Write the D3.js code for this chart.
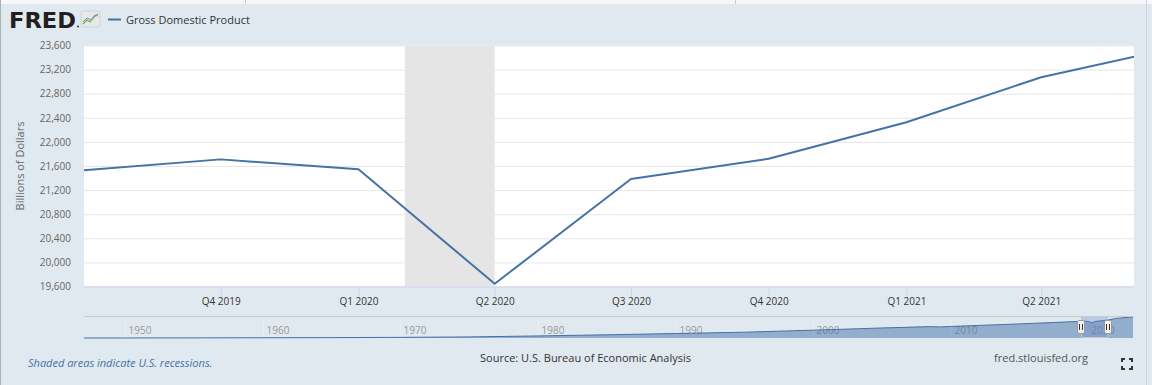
<!DOCTYPE html>
<html>
<head>
<meta charset="utf-8">
<script src="https://cdn.jsdelivr.net/npm/d3@7"></script>
<style>
  body { margin: 0; background: #e1e9f0; }
  svg { display: block; font-family: "Open Sans", sans-serif; }
</style>
</head>
<body>
<svg id="chart" width="1152" height="385"></svg>
<script>
// GDP, billions of dollars, quarterly
var quarters = ["2019-07-01", "2019-10-01", "2020-01-01", "2020-04-01", "2020-07-01",
                "2020-10-01", "2021-01-01", "2021-04-01", "2021-07-01"];
var gdp = [21530, 21710, 21545, 19645, 21384, 21720, 22327, 23074, 23570];

var yTicks = [19600, 20000, 20400, 20800, 21200, 21600, 22000, 22400, 22800, 23200, 23600];
var xTicks = ["2019-10-01", "2020-01-01", "2020-04-01", "2020-07-01", "2020-10-01", "2021-01-01", "2021-04-01"];
var xTickLabels = ["Q4 2019", "Q1 2020", "Q2 2020", "Q3 2020", "Q4 2020", "Q1 2021", "Q2 2021"];

var recession = ["2020-02-01", "2020-04-01"];

// navigator series (whole history, rough reading)
var navDates = ["1947-01-01", "1950-01-01", "1955-01-01", "1960-01-01", "1965-01-01", "1970-01-01",
                "1975-01-01", "1980-01-01", "1985-01-01", "1990-01-01", "1995-01-01", "2000-01-01",
                "2005-01-01", "2008-07-01", "2009-04-01", "2010-01-01", "2015-01-01", "2019-07-01",
                "2020-01-01", "2020-04-01", "2020-07-01", "2021-01-01", "2021-07-01", "2022-01-01",
                "2023-01-01", "2023-04-01"];
var navGdp = [243, 281, 393, 543, 720, 1073, 1636, 2857, 4339, 5964, 7640, 10252,
              13039, 14770, 14380, 14990, 18240, 21530, 21545, 19645, 21384, 22327, 23570, 25250,
              26810, 27060];
var navYears = [1950, 1960, 1970, 1980, 1990, 2000, 2010, 2020];

var parse = d3.timeParse("%Y-%m-%d");
var svg = d3.select("#chart");
var blue = "#4572a7";

// page bits round the chart
svg.append("rect").attr("x", 0).attr("y", 0).attr("width", 1152).attr("height", 4).attr("fill", "#f5f7f9");
svg.append("line").attr("x1", 245.5).attr("x2", 245.5).attr("y1", 0).attr("y2", 4).attr("stroke", "#ccc");
svg.append("line").attr("x1", 735.5).attr("x2", 735.5).attr("y1", 0).attr("y2", 4).attr("stroke", "#ccc");
svg.append("line").attr("x1", 0.5).attr("x2", 0.5).attr("y1", 0).attr("y2", 385).attr("stroke", "#a9b0b6");
svg.append("line").attr("x1", 1146.5).attr("x2", 1146.5).attr("y1", 0).attr("y2", 385).attr("stroke", "#cdd3d8");

// logo
svg.append("text").attr("x", 9).attr("y", 27.5)
  .attr("font-family", "DejaVu Sans, sans-serif").attr("font-weight", "bold")
  .attr("font-size", 22).attr("textLength", 67).attr("lengthAdjust", "spacingAndGlyphs")
  .attr("fill", "#231f20").text("FRED");
svg.append("circle").attr("cx", 78).attr("cy", 26.5).attr("r", 0.9).attr("fill", "#231f20");
var icon = svg.append("g").attr("transform", "translate(81,11)");
icon.append("rect").attr("width", 19).attr("height", 16).attr("rx", 2).attr("fill", "#e6e8ea").attr("stroke", "#cfd3d6");
icon.append("path").attr("d", "M2,13 L6,9 L9,11 L13,6 L17,3").attr("fill", "none").attr("stroke", "#7fb241").attr("stroke-width", 1.2);
icon.append("path").attr("d", "M2,11 L6,7 L10,9 L14,4 L17,5").attr("fill", "none").attr("stroke", "#6f93bd").attr("stroke-width", 1);

// legend
svg.append("line").attr("x1", 108).attr("x2", 121).attr("y1", 19.5).attr("y2", 19.5).attr("stroke", blue).attr("stroke-width", 2);
svg.append("text").attr("x", 126).attr("y", 24).attr("font-size", 11).attr("fill", "#333").text("Gross Domestic Product");

// main plot
var pLeft = 84, pRight = 1134, pTop = 45.5, pBottom = 286.5;
var x = d3.scaleTime().domain([parse("2019-07-01"), parse("2021-06-02")]).range([83, pRight]);
var y = d3.scaleLinear().domain([19600, 23600]).range([pBottom, pTop]);

svg.append("rect").attr("x", pLeft).attr("y", pTop).attr("width", pRight - pLeft).attr("height", pBottom - pTop).attr("fill", "#fff");

svg.append("defs").append("clipPath").attr("id", "clip")
  .append("rect").attr("x", pLeft).attr("y", pTop - 2).attr("width", pRight - pLeft).attr("height", pBottom - pTop + 4);

svg.append("rect")
  .attr("x", x(parse(recession[0]))).attr("y", pTop)
  .attr("width", x(parse(recession[1])) - x(parse(recession[0])))
  .attr("height", pBottom - pTop).attr("fill", "#e5e5e5");

var yAxis = d3.axisLeft(y).tickValues(yTicks).tickSize(-(pRight - pLeft)).tickFormat(d3.format(","));
var gy = svg.append("g").attr("transform", "translate(" + pLeft + ",0)").call(yAxis);
gy.select(".domain").remove();
gy.selectAll(".tick line").attr("stroke", "#e6e6e6");
gy.selectAll(".tick text").attr("x", -13).attr("font-size", 10).attr("fill", "#666").attr("font-family", "Open Sans");

svg.append("text")
  .attr("transform", "translate(24,166) rotate(-90)")
  .attr("text-anchor", "middle").attr("font-size", 11).attr("fill", "#666")
  .text("Billions of Dollars");

var xAxis = d3.axisBottom(x).tickValues(xTicks.map(parse)).tickSize(9).tickPadding(2)
  .tickFormat(function (d, i) { return xTickLabels[i]; });
var gx = svg.append("g").attr("transform", "translate(0," + pBottom + ")").call(xAxis);
gx.select(".domain").attr("d", "M" + pLeft + ",0.5H" + pRight).attr("stroke", "#ccd6eb");
gx.selectAll(".tick line").attr("stroke", "#ccd6eb");
gx.selectAll(".tick text").attr("font-size", 10).attr("fill", "#333").attr("font-family", "Open Sans");

var line = d3.line().x(function (d, i) { return x(parse(quarters[i])); }).y(function (d) { return y(d); });
svg.append("path").datum(gdp).attr("clip-path", "url(#clip)")
  .attr("d", line).attr("fill", "none").attr("stroke", blue).attr("stroke-width", 2)
  .attr("stroke-linejoin", "round");

// navigator
var nTop = 316, nBottom = 338;
var nx = d3.scaleTime().domain([parse("1947-01-01"), parse("2023-04-01")]).range([pLeft, 1133]);
var ny = d3.scaleLinear().domain([d3.min(navGdp), d3.max(navGdp)]).range([nBottom, nTop + 1]);

var nav = svg.append("g");
navYears.forEach(function (yr) {
  var px = Math.round(nx(new Date(yr, 0, 1))) + 0.5;
  nav.append("line").attr("x1", px).attr("x2", px).attr("y1", nTop).attr("y2", nBottom).attr("stroke", "#e9eef2");
  nav.append("text").attr("x", px + 3).attr("y", 334).attr("font-size", 10).attr("fill", "#999").text(yr);
});

var area = d3.area().x(function (d, i) { return nx(parse(navDates[i])); }).y0(nBottom).y1(function (d) { return ny(d); });
nav.append("path").datum(navGdp).attr("d", area).attr("fill", "rgba(69,114,167,0.5)");
nav.append("path").datum(navGdp).attr("d", area.lineY1()).attr("fill", "none").attr("stroke", blue).attr("stroke-width", 1);

var selL = nx(parse("2019-07-01")), selR = nx(x.invert(pRight));
nav.append("rect").attr("x", selL).attr("y", nTop).attr("width", selR - selL).attr("height", nBottom - nTop)
  .attr("fill", "rgba(102,133,194,0.3)");
nav.append("path")
  .attr("d", "M" + pLeft + "," + (nTop + 0.5) + "H" + selL + "V" + (nBottom - 0.5) + "H" + selR + "V" + (nTop + 0.5) + "H1133")
  .attr("fill", "none").attr("stroke", "#c8c8c8");

[selL, selR].forEach(function (hx) {
  var h = nav.append("g").attr("transform", "translate(" + Math.round(hx) + ",327)");
  h.append("rect").attr("x", -3.5).attr("y", -6.5).attr("width", 7).attr("height", 13).attr("rx", 1.5)
    .attr("fill", "#f2f2f2").attr("stroke", "#999");
  h.append("path").attr("d", "M-1.5,-3V3M1.5,-3V3").attr("stroke", "#333").attr("stroke-width", 1);
});

// footer
svg.append("text").attr("x", 28).attr("y", 367).attr("font-size", 11).attr("font-style", "italic")
  .attr("fill", blue).text("Shaded areas indicate U.S. recessions.");
svg.append("text").attr("x", 585.5).attr("y", 362).attr("text-anchor", "middle").attr("font-size", 11)
  .attr("fill", "#333").text("Source: U.S. Bureau of Economic Analysis");
svg.append("text").attr("x", 1088).attr("y", 362).attr("text-anchor", "end").attr("font-size", 11)
  .attr("fill", "#555").text("fred.stlouisfed.org");

var fs = svg.append("g").attr("transform", "translate(1121,358)").attr("fill", "none").attr("stroke", "#333").attr("stroke-width", 2);
fs.append("path").attr("d", "M1,4V1H4M8,1H11V4M11,8V11H8M4,11H1V8");
</script>
</body>
</html>
